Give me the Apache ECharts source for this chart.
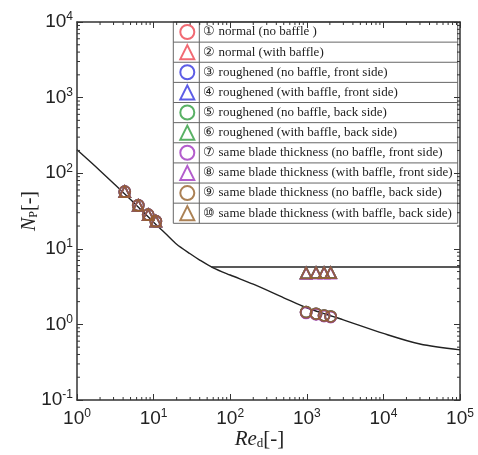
<!DOCTYPE html>
<html>
<head>
<meta charset="utf-8">
<script src="https://cdn.jsdelivr.net/npm/echarts@6/dist/echarts.min.js"></script>
<style>
  html, body { margin: 0; padding: 0; background: #fff; }
  #chart { width: 478px; height: 455px; }
</style>
</head>
<body>
<div id="chart"></div>
<script>
// correlation curve
var curveRe = [1, 2, 5, 10, 15, 20, 30, 40, 60, 100, 200, 500, 1000, 3000, 10000, 30000, 100000];
var curveNp = [204, 108, 45, 22.5, 15.2, 11.5, 8.6, 7.1, 5.6, 4.5, 3.4, 2.25, 1.65, 1.15, 0.76, 0.55, 0.46];
// turbulent level with baffle
var baffleRe = [57, 100000];
var baffleNp = [5.75, 5.75];

// measured points
var reLow = [4.2, 6.3, 8.5, 10.7];
var npLow = [57, 37.6, 28.3, 23.2];
var reHigh = [980, 1320, 1680, 2050];
var npNoBaffle = [1.45, 1.38, 1.31, 1.27];
var npBaffle = [4.8, 4.85, 4.85, 4.85];
var npNoBaffleSame = [1.42, 1.36, 1.29, 1.25];
var npBaffleSame = [4.72, 4.75, 4.75, 4.75];

var names = [
  '\u2460 normal (no baffle )',
  '\u2461 normal (with baffle)',
  '\u2462 roughened (no baffle, front side)',
  '\u2463 roughened (with baffle, front side)',
  '\u2464 roughened (no baffle, back side)',
  '\u2465 roughened (with baffle, back side)',
  '\u2466 same blade thickness (no baffle, front side)',
  '\u2467 same blade thickness (with baffle, front side)',
  '\u2468 same blade thickness (no baffle, back side)',
  '\u2469 same blade thickness (with baffle, back side)'
];
var colors = ['#ee4550', '#ee4550', '#3535e0', '#3535e0', '#2f9e3f', '#2f9e3f',
              '#a035c0', '#a035c0', '#96622a', '#96622a'];
var highNp = [npNoBaffle, npBaffle, npNoBaffle, npBaffle, npNoBaffle, npBaffle,
              npNoBaffleSame, npBaffleSame, npNoBaffle, npBaffle];

var chart = echarts.init(document.getElementById('chart'));

function pairs(xs, ys) {
  var out = [];
  for (var i = 0; i < xs.length; i++) out.push([xs[i], ys[i]]);
  return out;
}

// log minor ticks 2..9 per decade
function minorValues(lo, hi) {
  var out = [];
  for (var k = lo; k < hi; k++) {
    for (var m = 2; m <= 9; m++) out.push(m * Math.pow(10, k));
  }
  return out;
}

function powLabel(v) {
  var e = Math.round(Math.log10(v));
  return '{b|10}{s|' + e + '}';
}

var numFont = '"Liberation Sans", Arial, sans-serif';
var serif = '"Liberation Serif", "Times New Roman", serif';
var axisColor = '#333';

var series = [];
series.push({
  type: 'line', data: pairs(curveRe, curveNp), smooth: 0.3, symbol: 'none',
  lineStyle: { color: '#222', width: 1.4 }, silent: true, z: 1
});
series.push({
  type: 'line', data: pairs(baffleRe, baffleNp), symbol: 'none',
  lineStyle: { color: '#222', width: 1.4 }, silent: true, z: 1
});
for (var i = 0; i < names.length; i++) {
  series.push({
    name: names[i],
    type: 'scatter',
    symbol: i % 2 === 0 ? 'circle' : 'triangle',
    symbolSize: 11,
    itemStyle: { color: 'rgba(0,0,0,0)', borderColor: colors[i], borderWidth: 1.7 },
    data: pairs(reLow, npLow).concat(pairs(reHigh, highNp[i])),
    z: 3
  });
}
// minor ticks on bottom/top
series.push({
  type: 'custom', silent: true, z: 2,
  data: minorValues(0, 5).map(function (v) { return [v, 0.1]; }),
  renderItem: function (params, api) {
    var b = api.coord([api.value(0), 0.1]);
    var t = api.coord([api.value(0), 10000]);
    var st = { stroke: axisColor, lineWidth: 1 };
    return { type: 'group', children: [
      { type: 'line', shape: { x1: b[0], y1: b[1], x2: b[0], y2: b[1] - 3 }, style: st },
      { type: 'line', shape: { x1: t[0], y1: t[1], x2: t[0], y2: t[1] + 3 }, style: st }
    ] };
  }
});
// minor ticks on left/right
series.push({
  type: 'custom', silent: true, z: 2,
  data: minorValues(-1, 4).map(function (v) { return [1, v]; }),
  renderItem: function (params, api) {
    var l = api.coord([1, api.value(1)]);
    var r = api.coord([100000, api.value(1)]);
    var st = { stroke: axisColor, lineWidth: 1 };
    return { type: 'group', children: [
      { type: 'line', shape: { x1: l[0], y1: l[1], x2: l[0] + 3, y2: l[1] }, style: st },
      { type: 'line', shape: { x1: r[0], y1: r[1], x2: r[0] - 3, y2: r[1] }, style: st }
    ] };
  }
});

// legend table frame
var tblLeft = 173.3, tblDiv = 199.3, tblRight = 457.7, tblTop = 22, rowH = 20.13;
var frame = [];
for (var r = 0; r <= names.length; r++) {
  frame.push({ type: 'line', shape: { x1: tblLeft, y1: tblTop + r * rowH, x2: tblRight, y2: tblTop + r * rowH },
    style: { stroke: '#666', lineWidth: 1 } });
}
[tblLeft, tblDiv, tblRight].forEach(function (x) {
  frame.push({ type: 'line', shape: { x1: x, y1: tblTop, x2: x, y2: tblTop + names.length * rowH },
    style: { stroke: '#666', lineWidth: 1 } });
});

var axisLine = { lineStyle: { color: axisColor, width: 1.5 } };
var axisTick = { inside: true, length: 6, lineStyle: { color: axisColor, width: 1 } };
var richLabel = {
  b: { fontSize: 19, fontFamily: numFont, color: '#222', lineHeight: 22 },
  s: { fontSize: 12, fontFamily: numFont, color: '#222', verticalAlign: 'top', lineHeight: 12 }
};

chart.setOption({
  animation: false,
  backgroundColor: '#fff',
  grid: { left: 77, right: 18, top: 22, bottom: 49 },
  xAxis: [{
    type: 'log', logBase: 10, min: 1, max: 100000, position: 'bottom',
    axisLine: axisLine, axisTick: axisTick, splitLine: { show: false },
    axisLabel: { margin: 8, formatter: powLabel, rich: richLabel },
    name: '{i|Re}{sub|d}{n|[-]}', nameLocation: 'middle', nameGap: 29, nameMoveOverlap: false,
    nameTextStyle: {
      padding: [0, 18, 0, 0],
      rich: {
        i: { fontSize: 21, fontFamily: serif, fontStyle: 'italic', color: '#222' },
        sub: { fontSize: 13, fontFamily: serif, color: '#222', verticalAlign: 'bottom' },
        n: { fontSize: 21, fontFamily: serif, color: '#222' }
      }
    }
  }, {
    type: 'log', logBase: 10, min: 1, max: 100000, position: 'top',
    axisLine: axisLine, axisTick: axisTick, splitLine: { show: false },
    axisLabel: { show: false }
  }],
  yAxis: [{
    type: 'log', logBase: 10, min: 0.1, max: 10000, position: 'left',
    axisLine: axisLine, axisTick: axisTick, splitLine: { show: false },
    axisLabel: { margin: 4, formatter: powLabel, rich: richLabel },
    name: '{i|N}{sub|P}{n|[-]}', nameLocation: 'middle', nameGap: 37, nameRotate: 90, nameMoveOverlap: false,
    nameTextStyle: {
      rich: {
        i: { fontSize: 20, fontFamily: serif, fontStyle: 'italic', color: '#222' },
        sub: { fontSize: 12, fontFamily: serif, color: '#222', verticalAlign: 'bottom' },
        n: { fontSize: 20, fontFamily: serif, color: '#222' }
      }
    }
  }, {
    type: 'log', logBase: 10, min: 0.1, max: 10000, position: 'right',
    axisLine: axisLine, axisTick: axisTick, splitLine: { show: false },
    axisLabel: { show: false }
  }],
  legend: {
    data: names,
    orient: 'vertical',
    left: 179.3, top: 24,
    padding: 0,
    itemWidth: 14, itemHeight: 14, itemGap: rowH - 16,
    selectedMode: false,
    textStyle: { fontFamily: serif, fontSize: 13, color: '#222', lineHeight: 16, padding: [0, 0, 0, 4] }
  },
  graphic: [{
    type: 'rect', z: -1, shape: { x: tblLeft, y: tblTop, width: tblRight - tblLeft, height: names.length * rowH },
    style: { fill: '#fff' }
  }].concat(frame),
  series: series
});
</script>
</body>
</html>
